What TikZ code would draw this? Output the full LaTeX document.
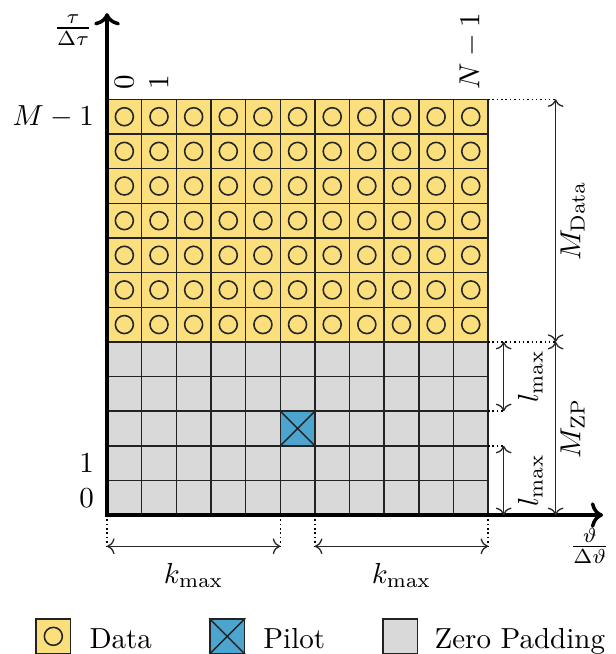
\documentclass[tikz,border=0pt]{standalone}
\usepackage{tikz}
\usetikzlibrary{arrows.meta, positioning, calc}
\usepackage{amsmath}
\definecolor{dataYellow}{HTML}{FBDF7C}
\definecolor{pilotBlue}{HTML}{4BA5CF}
\definecolor{zpGray}{HTML}{D9D9D9}
\definecolor{lineDark}{HTML}{222222}
\tikzset{
  gridL/.style={draw=lineDark, line width=0.5pt},
  dataC/.style={draw=black!85, line width=0.55pt},
  axisL/.style={<->, line width=1.2pt},
  dimA/.style={<->, line width=0.45pt, color=black!85},
  dotL/.style={densely dotted, line width=0.5pt},
  colL/.style={rotate=90, anchor=west},
  rowL/.style={anchor=east, xshift=-1pt},
  dimLab/.style={rotate=90, anchor=north, inner sep=1.5pt},
  legBox/.style={rectangle, draw=lineDark, line width=0.5pt, minimum size=0.42cm,
                 inner sep=0pt},
  legT/.style={anchor=base west},
}

\begin{document}
\begin{tikzpicture}[x=0.42cm, y=0.42cm]
    \useasboundingbox (-3.09,-4.01) rectangle (14.69,14.87);

    % celdas: zero padding, datos y piloto
    \fill[zpGray] (0,0) rectangle (11,5);
    \fill[dataYellow] (0,5) rectangle (11,12);
    \fill[pilotBlue] (5,2) rectangle (6,3);
    \foreach \i in {0,...,11}
      \draw[gridL] (\i,0) -- (\i,12);
    \foreach \j in {0,...,12}
      \draw[gridL] (0,\j) -- (11,\j);
    \draw[gridL] (5,2) -- (6,3) (5,3) -- (6,2);
    \foreach \i in {0,...,10}
      \foreach \j in {5,...,11}
        \draw[dataC] (\i+0.5,\j+0.5) circle (0.26);

    % ejes
    \coordinate (tauTip) at (0,14.49);
    \coordinate (nuTip) at (14.32,0);
    \draw[axisL] (tauTip) |- (nuTip);
    \node[anchor=east] (tauLab) at (-0.12,14.0) {$\frac{\tau}{\Delta\tau}$};
    \node (nuLab) at (13.94,-0.89) {$\frac{\vartheta}{\Delta\vartheta}$};

    % indices
    \node[colL] (col0) at (0.5,12) {$0$};
    \node[colL] (col1) at (1.5,12) {$1$};
    \node[colL] (colN) at (10.5,12) {$N-1$};
    \node[rowL] (rowM) at (0,11.5) {$M-1$};
    \node[rowL] (row1) at (0,1.5) {$1$};
    \node[rowL] (row0) at (0,0.5) {$0$};

    % cotas verticales
    \coordinate (mTop) at (12.95,12);
    \coordinate (mMid) at (12.95,5);
    \coordinate (mBot) at (12.95,0);
    \coordinate (lTopA) at (11.45,5);
    \coordinate (lTopB) at (11.45,3);
    \coordinate (lBotA) at (11.45,2);
    \coordinate (lBotB) at (11.45,0);
    \draw[dotL] (11,12) -- (mTop);
    \draw[dotL] (11,5) -- (mMid);
    \draw[dotL] (11,3) -- (lTopB);
    \draw[dotL] (11,2) -- (lBotA);
    \draw[dimA] (mTop) -- (mMid);
    \draw[dimA] (mMid) -- (mBot);
    \draw[dimA] (lTopA) -- (lTopB);
    \draw[dimA] (lBotA) -- (lBotB);
    \node[dimLab] (mData) at (12.95,8.5) {$M_{\mathrm{Data}}$};
    \node[dimLab] (mZP) at (12.95,2.5) {$M_{\mathrm{ZP}}$};
    \node[rotate=90] (lmaxA) at (12.22,4) {$l_{\max}$};
    \node[rotate=90] (lmaxB) at (12.22,1) {$l_{\max}$};

    % cotas horizontales
    \coordinate (kA) at (0,-0.9);
    \coordinate (kB) at (5,-0.9);
    \coordinate (kC) at (6,-0.9);
    \coordinate (kD) at (11,-0.9);
    \draw[dotL] (0,0) -- (kA);
    \draw[dotL] (5,0) -- (kB);
    \draw[dotL] (6,0) -- (kC);
    \draw[dotL] (11,0) -- (kD);
    \draw[dimA] (kA) -- (kB);
    \draw[dimA] (kC) -- (kD);
    \node (kmaxA) at (2.5,-1.75) {$k_{\max}$};
    \node (kmaxB) at (8.5,-1.75) {$k_{\max}$};

    % leyenda
    \node[legBox, fill=dataYellow] (legData) at (-1.55,-3.5) {};
    \draw[dataC] (legData.center) circle (0.26);
    \node[legT] (txtData) at (-0.8,-3.84) {Data};
    \node[legBox, fill=pilotBlue] (legPilot) at (3.47,-3.5) {};
    \draw[gridL] (legPilot.north west) -- (legPilot.south east)
                 (legPilot.south west) -- (legPilot.north east);
    \node[legT] (txtPilot) at (4.22,-3.84) {Pilot};
    \node[legBox, fill=zpGray] (legZP) at (8.47,-3.5) {};
    \node[legT] (txtZP) at (9.16,-3.84) {Zero Padding};
\end{tikzpicture}
\end{document}
